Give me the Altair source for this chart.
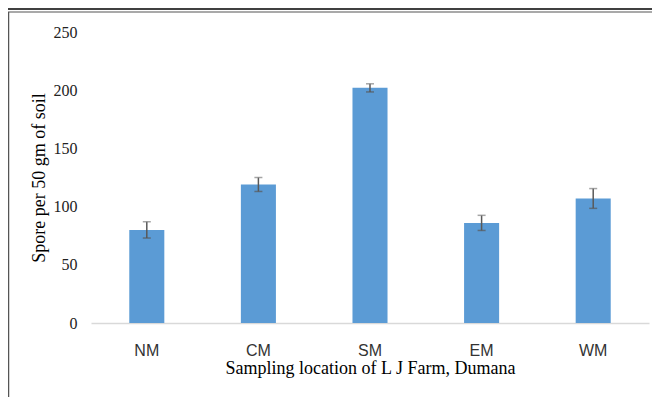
import altair as alt
import pandas as pd

locations = ["NM", "CM", "SM", "EM", "WM"]
spores = [80, 119, 202, 86, 107]
errors = [7, 6, 3.5, 6.5, 8.5]

df = pd.DataFrame({"loc": locations, "spore": spores, "err": errors})
df["lo"] = df["spore"] - df["err"]
df["hi"] = df["spore"] + df["err"]

W, H = 558, 291
PL, PT = 83, 24

xscale = alt.Scale(domain=locations, paddingInner=0.686, paddingOuter=0.343)
yscale = alt.Scale(domain=[0, 250], nice=False)

base = alt.Chart(df)

bars = base.mark_bar(color="#5B9BD5").encode(
    x=alt.X("loc:N", scale=xscale, sort=locations,
            axis=alt.Axis(title="Sampling location of L  J Farm, Dumana", labelAngle=0,
                          labelFont="Liberation Sans", labelFontSize=16, labelColor="#333333",
                          labelPadding=19, ticks=False, domainColor="#d9d9d9", domainWidth=1.5,
                          titleFont="Liberation Serif", titleFontSize=18, titleFontWeight="normal",
                          titleColor="#000000", titlePadding=1)),
    y=alt.Y("spore:Q", scale=yscale,
            axis=alt.Axis(title="Spore per 50 gm of soil", values=[0, 50, 100, 150, 200, 250],
                          grid=False, ticks=False, domain=False,
                          labelFont="Liberation Serif", labelFontSize=16, labelColor="#222222",
                          labelPadding=14,
                          titleFont="Liberation Serif", titleFontSize=18, titleFontWeight="normal",
                          titleColor="#000000", titlePadding=5)),
)

ebar = base.mark_rule(color="#595959", strokeWidth=1.5).encode(
    x=alt.X("loc:N", scale=xscale, sort=locations),
    y=alt.Y("lo:Q", scale=yscale),
    y2="hi:Q",
)
caps_hi = base.mark_tick(color="#7f7f7f", thickness=1.5, size=8, orient="horizontal").encode(
    x=alt.X("loc:N", scale=xscale, sort=locations),
    y=alt.Y("hi:Q", scale=yscale),
)
caps_lo = base.mark_tick(color="#595959", thickness=1.5, size=8, orient="horizontal").encode(
    x=alt.X("loc:N", scale=xscale, sort=locations),
    y=alt.Y("lo:Q", scale=yscale),
)

one = alt.Chart(pd.DataFrame({"a": [0]}))
top_line = one.mark_rule(color="#000000", strokeWidth=1.5).encode(
    x=alt.value(-PL), x2=alt.value(W + 3), y=alt.value(-PT + 1))
box_top = one.mark_rule(color="#8c8c8c", strokeWidth=1.5).encode(
    x=alt.value(-PL), x2=alt.value(W + 3), y=alt.value(-PT + 4))
box_left = one.mark_rule(color="#555555", strokeWidth=1.5).encode(
    x=alt.value(-PL + 0.5), y=alt.value(-PT + 4), y2=alt.value(H + 74))

chart = alt.layer(bars, ebar, caps_hi, caps_lo, top_line, box_top, box_left).properties(
    width=W, height=H,
    autosize=alt.AutoSizeParams(type="none"),
    padding={"left": PL, "top": PT, "right": 3, "bottom": 74},
).configure_view(stroke=None).resolve_scale(x="shared", y="shared")

chart.save("out.html", embed_options={"renderer": "svg", "actions": False})
